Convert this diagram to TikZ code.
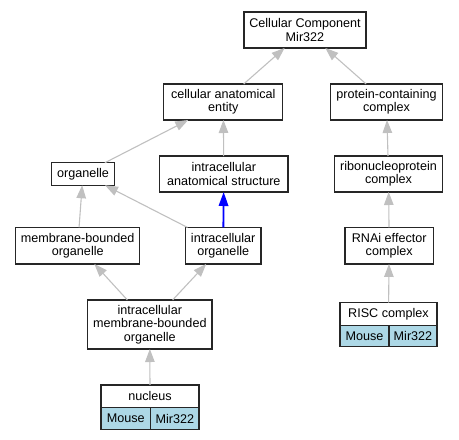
\documentclass[tikz,border=0pt]{standalone}
\usepackage{fontspec}
\setmainfont{Liberation Sans}
\usetikzlibrary{arrows.meta}
\definecolor{edgegray}{HTML}{C0C0C0}
\definecolor{cellblue}{HTML}{ADD8E6}
\tikzset{
  box/.style={draw=black!85, line width=1.3pt, fill=white, inner sep=0pt, outer sep=0pt,
    align=center, font=\fontsize{12.6}{13.3}\selectfont},
  cell/.style={box, fill=cellblue},
  edge/.style={draw=edgegray, line width=1.1pt, -{Triangle[length=13pt, width=9.5pt]}},
  bedge/.style={draw=blue, line width=1.8pt, -{Triangle[length=14pt, width=9.5pt]}},
}
\begin{document}
\begin{tikzpicture}[x=1pt, y=-1pt]
\useasboundingbox (0,0) rectangle (459,440);
% nodes
\node[box, minimum width=122pt, minimum height=36pt] (cc) at (305,30) {Cellular Component\\Mir322};
\node[box, minimum width=119pt, minimum height=36pt] (cae) at (223.3,102) {cellular anatomical\\entity};
\node[box, minimum width=112pt, minimum height=36pt] (pcc) at (386.5,102) {protein-containing\\complex};
\node[box, minimum width=62.5pt, minimum height=22.5pt] (org) at (83,174) {organelle};
\node[box, minimum width=128.3pt, minimum height=36pt] (ias) at (223.8,174) {intracellular\\anatomical structure};
\node[box, minimum width=108.3pt, minimum height=36pt] (rc) at (388.5,174) {ribonucleoprotein\\complex};
\node[box, minimum width=124pt, minimum height=36.5pt] (mbo) at (77.7,245.7) {membrane-bounded\\organelle};
\node[box, minimum width=75.7pt, minimum height=36.5pt] (io) at (223.2,245.7) {intracellular\\organelle};
\node[box, minimum width=88.3pt, minimum height=36.5pt] (rec) at (389.2,245.7) {RNAi effector\\complex};
\node[box, minimum width=124.3pt, minimum height=49pt] (imbo) at (149.8,324.5) {intracellular\\membrane-bounded\\organelle};
% RISC complex table
\node[box, minimum width=97pt, minimum height=23pt] (risc) at (388.5,314.2) {RISC complex};
\node[cell, minimum width=49pt, minimum height=21pt] (riscm) at (364.5,336.2) {Mouse};
\node[cell, minimum width=48pt, minimum height=21pt] (riscg) at (413,336.2) {Mir322};
% nucleus table
\node[box, minimum width=98pt, minimum height=22.7pt] (nuc) at (150,396.3) {nucleus};
\node[cell, minimum width=49.7pt, minimum height=21.6pt] (nucm) at (125.85,418.5) {Mouse};
\node[cell, minimum width=48.3pt, minimum height=21.6pt] (nucg) at (174.85,418.5) {Mir322};
% edges
\draw[edge] (cae) -- (cc);
\draw[edge] (pcc) -- (cc);
\draw[edge] (org) -- (cae);
\draw[edge] (ias) -- (cae);
\draw[edge] (rc) -- (pcc);
\draw[edge] (mbo) -- (org);
\draw[edge] (io) -- (org);
\draw[bedge] (io) -- (ias);
\draw[edge] (rec) -- (rc);
\draw[edge] (imbo) -- (mbo);
\draw[edge] (imbo) -- (io);
\draw[edge] (risc) -- (rec);
\draw[edge] (nuc) -- (imbo);
\end{tikzpicture}
\end{document}
